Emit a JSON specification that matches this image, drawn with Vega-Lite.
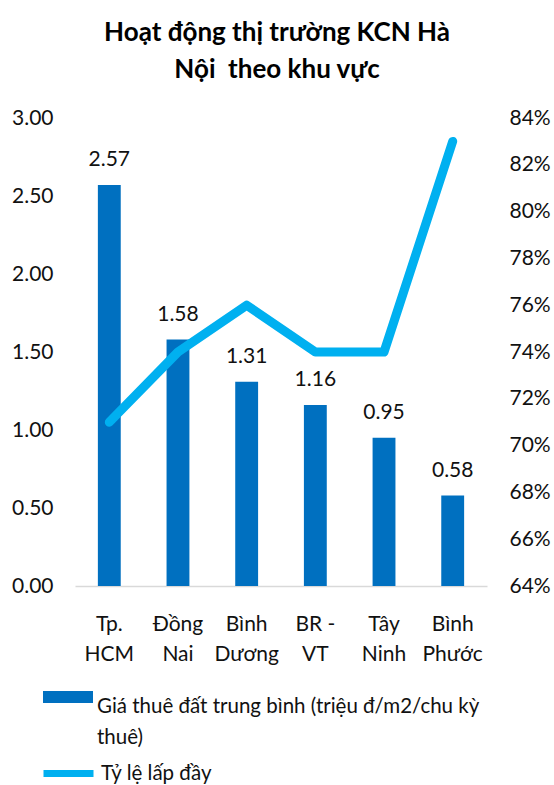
{
  "$schema": "https://vega.github.io/schema/vega-lite/v6.json",
  "width": 412,
  "height": 468,
  "autosize": "none",
  "padding": {"left": 75, "top": 118, "right": 67, "bottom": 199},
  "background": "white",
  "title": {
    "text": ["Hoạt động thị trường KCN Hà", "Nội \u00a0theo khu vực"],
    "font": "Lato",
    "fontSize": 26,
    "fontWeight": "bold",
    "lineHeight": 37,
    "anchor": "middle",
    "dx": -4,
    "color": "#000000",
    "offset": 24
  },
  "data": {
    "values": [
      {"region": "Tp. HCM", "price": 2.57, "occupancy": 0.71},
      {"region": "Đồng Nai", "price": 1.58, "occupancy": 0.74},
      {"region": "Bình Dương", "price": 1.31, "occupancy": 0.76},
      {"region": "BR - VT", "price": 1.16, "occupancy": 0.74},
      {"region": "Tây Ninh", "price": 0.95, "occupancy": 0.74},
      {"region": "Bình Phước", "price": 0.58, "occupancy": 0.83}
    ]
  },
  "encoding": {
    "x": {
      "field": "region",
      "type": "nominal",
      "sort": null,
      "scale": {"paddingInner": 0.667, "paddingOuter": 0.333},
      "axis": {
        "title": null,
        "labelAngle": 0,
        "labelFont": "Lato",
        "labelFontSize": 21,
        "labelColor": "#111111",
        "labelPadding": 27,
        "labelLineHeight": 30,
        "labelBaseline": "top",
        "labelExpr": "datum.label == 'BR - VT' ? ['BR -', 'VT'] : split(datum.label, ' ')",
        "ticks": false,
        "domainColor": "#D9D9D9",
        "domainWidth": 1.5,
        "grid": false
      }
    }
  },
  "layer": [
    {
      "encoding": {
        "y": {
          "field": "price",
          "type": "quantitative",
          "scale": {"domain": [0, 3], "nice": false},
          "axis": {
            "title": null,
            "orient": "left",
            "values": [0, 0.5, 1, 1.5, 2, 2.5, 3],
            "format": ".2f",
            "labelFont": "Lato",
            "labelFontSize": 21,
            "labelColor": "#111111",
            "labelPadding": 22,
            "ticks": false,
            "domain": false,
            "grid": false
          }
        }
      },
      "layer": [
        {
          "mark": {"type": "bar"},
          "encoding": {
            "fill": {
              "datum": "Giá thuê đất trung bình (triệu đ/m2/chu kỳ thuê)",
              "scale": {"range": ["#0070C0"]},
              "legend": {
                "orient": "none",
                "legendX": -32,
                "legendY": 554,
                "title": null,
                "padding": 0,
                "symbolType": "M-1,-0.24H1V0.24H-1Z",
                "symbolSize": 2500,
                "symbolStrokeWidth": 0,
                "labelExpr": "['Giá thuê đất trung bình (triệu đ/m2/chu kỳ', 'thuê)']",
                "labelBaseline": "top",
                "labelFont": "Lato",
                "labelFontSize": 20.5,
                "labelColor": "#111111",
                "labelOffset": 4,
                "labelLimit": 0
              }
            }
          }
        },
        {
          "mark": {"type": "text", "baseline": "middle", "dy": -25, "font": "Lato", "fontSize": 21, "color": "#111111"},
          "encoding": {
            "text": {"field": "price", "type": "quantitative", "format": ".2f"}
          }
        }
      ]
    },
    {
      "mark": {"type": "line", "strokeWidth": 9, "strokeCap": "round", "strokeJoin": "round"},
      "encoding": {
        "y": {
          "field": "occupancy",
          "type": "quantitative",
          "scale": {"domain": [0.64, 0.84], "nice": false, "zero": false},
          "axis": {
            "title": null,
            "orient": "right",
            "values": [0.64, 0.66, 0.68, 0.7, 0.72, 0.74, 0.76, 0.78, 0.8, 0.82, 0.84],
            "format": ".0%",
            "labelFont": "Lato",
            "labelFontSize": 21,
            "labelColor": "#111111",
            "labelPadding": 22,
            "ticks": false,
            "domain": false,
            "grid": false
          }
        },
        "stroke": {
          "datum": "Tỷ lệ lấp đầy",
          "scale": {"range": ["#00B0F0"]},
          "legend": {
            "orient": "none",
            "legendX": -35,
            "legendY": 627,
            "title": null,
            "padding": 0,
            "symbolType": "stroke",
            "symbolSize": 2500,
            "symbolStrokeWidth": 7,
            "labelFont": "Lato",
            "labelFontSize": 20.5,
            "labelColor": "#111111",
            "labelOffset": 4,
            "labelLimit": 0
          }
        }
      }
    }
  ],
  "resolve": {"scale": {"y": "independent"}},
  "config": {
    "view": {"stroke": null},
    "style": {"guide-label": {"lineHeight": 31}}
  }
}
